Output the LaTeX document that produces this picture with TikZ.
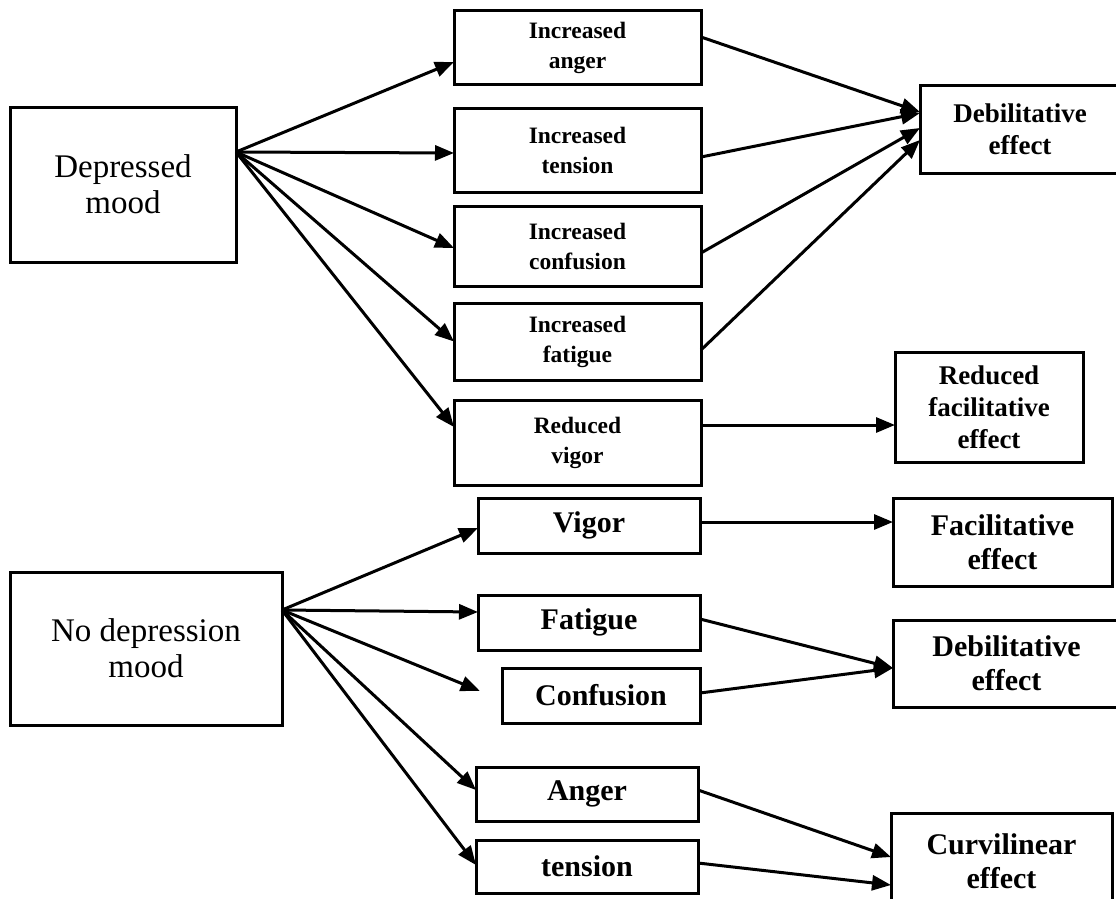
\documentclass[tikz,border=0pt]{standalone}
\usepackage{fontspec}
\setmainfont{Liberation Serif}
\usetikzlibrary{arrows.meta}
\begin{document}
\begin{tikzpicture}[x=1pt,y=-1pt,
    box/.style={draw,line width=3pt,inner sep=0pt,outer sep=0pt,align=center},
    srcbox/.style={box,font=\fontsize{33}{36}\selectfont},
    smallbox/.style={box,font=\bfseries\fontsize{23.5}{30}\selectfont,minimum width=247},
    effbox/.style={box,font=\bfseries\fontsize{27}{32}\selectfont},
    bigbox/.style={box,font=\bfseries\fontsize{30}{34}\selectfont},
    arr/.style={line width=3pt,-{Triangle[length=19pt,width=15pt]}}]
                \useasboundingbox (0,0) rectangle (1116,899);
                %% depressed mood
                \node[srcbox,minimum width=226,minimum height=155] (dep) at (123,184.5) {Depressed\\mood};
                \node[smallbox,minimum height=73] (incA) at (577.5,47.5) {Increased\\anger};
                \node[smallbox,minimum height=84] (incT) at (577.5,150) {Increased\\tension};
                \node[smallbox,minimum height=80] (incC) at (577.5,246) {Increased\\confusion};
                \node[smallbox,minimum height=77] (incF) at (577.5,341.5) {Increased\\fatigue};
                \node[smallbox,minimum height=85] (redV) at (577.5,442.5) {Reduced\\vigor};
                \node[effbox,minimum width=200,minimum height=88] (debA) at (1020,129) {Debilitative\\effect};
                \node[effbox,minimum width=188,minimum height=110] (redF) at (989,407) {Reduced\\facilitative\\effect};
                \draw[arr] ([yshift=32.5]dep.east) -- ([yshift=-14.5]incA.west);
                \draw[arr] ([yshift=32.5]dep.east) -- ([yshift=-3]incT.west);
                \draw[arr] ([yshift=32.5]dep.east) -- ([yshift=-2]incC.west);
                \draw[arr] ([yshift=32.5]dep.east) -- (incF.west);
                \draw[arr] ([yshift=32.5]dep.east) -- ([yshift=15.5]redV.west);
                \draw[arr] ([yshift=10.5]incA.east) -- ([yshift=17]debA.west);
                \draw[arr] ([yshift=-7]incT.east) -- ([yshift=16]debA.west);
                \draw[arr] ([yshift=-7]incC.east) -- ([yshift=1]debA.west);
                \draw[arr] ([yshift=-8.5]incF.east) -- ([yshift=-11]debA.west);
                \draw[arr] ([yshift=17.5]redV.east) -- ([yshift=-18]redF.west);
                %% no depression mood
                \node[srcbox,minimum width=272,minimum height=153] (nod) at (146,648.5) {No depression\\mood};
                \node[bigbox,minimum width=222,minimum height=55] (vig) at (589,525.5) {Vigor};
                \node[bigbox,minimum width=222,minimum height=55] (fat) at (589,622.5) {Fatigue};
                \node[bigbox,minimum width=198,minimum height=55] (conf) at (601,695.5) {Confusion};
                \node[bigbox,minimum width=222,minimum height=54] (ang) at (587,794) {Anger};
                \node[bigbox,minimum width=222,minimum height=53] (ten) at (587,866.5) {tension};
                \node[bigbox,minimum width=219,minimum height=88] (fac) at (1002.5,542) {Facilitative\\effect};
                \node[bigbox,minimum width=227,minimum height=87] (debB) at (1006.5,663.5) {Debilitative\\effect};
                \node[bigbox,minimum width=221,minimum height=97] (curv) at (1001.5,861.5) {Curvilinear\\effect};
                \draw[arr] ([yshift=38.5]nod.east) -- ([yshift=-2.5]vig.west);
                \draw[arr] ([yshift=38.5]nod.east) -- ([yshift=10.5]fat.west);
                \draw[arr,shorten >=24pt] ([yshift=38.5]nod.east) -- ([yshift=-4.5]conf.west);
                \draw[arr] ([yshift=38.5]nod.east) -- ([yshift=4]ang.west);
                \draw[arr] ([yshift=38.5]nod.east) -- ([yshift=1.5]ten.west);
                \draw[arr] ([yshift=3.5]vig.east) -- ([yshift=20]fac.west);
                \draw[arr] ([yshift=3.5]fat.east) -- ([yshift=-4.5]debB.west);
                \draw[arr] ([yshift=2.5]conf.east) -- ([yshift=-4.5]debB.west);
                \draw[arr] ([yshift=4]ang.east) -- ([yshift=4.5]curv.west);
                \draw[arr] ([yshift=3.5]ten.east) -- ([yshift=-23.5]curv.west);
\end{tikzpicture}
\end{document}
